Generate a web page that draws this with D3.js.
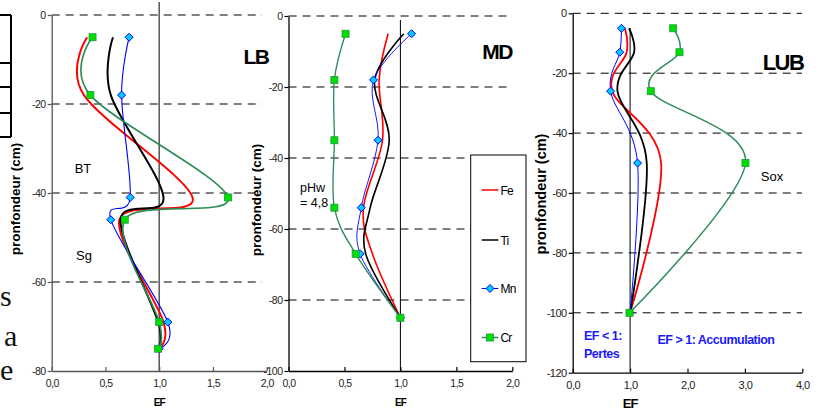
<!DOCTYPE html>
<html><head><meta charset="utf-8">
<script src="https://cdn.jsdelivr.net/npm/d3@7"></script>
<style>
body{margin:0;background:#fff;}
svg{display:block;font-family:"Liberation Sans",Arial,sans-serif;}
</style></head>
<body>
<svg id="c" width="819" height="410"></svg>
<script>
// ---- data ----
const elements = ["Fe", "Ti", "Mn", "Cr"];
const xTicks12 = [0, 0.5, 1, 1.5, 2];
const xTicks3 = [0, 1, 2, 3, 4];
// LB
const lbDepth = [-5, -18, -41, -46, -69, -75];
const lbFe = [0.33, 0.30, 1.31, 0.63, 1.04, 0.99];
const lbTi = [0.57, 0.55, 1.04, 0.64, 0.99, 0.99];
const lbMn = [0.72, 0.65, 0.73, 0.55, 1.08, 1.0];
const lbCr = [0.38, 0.36, 1.64, 0.68, 1.0, 0.99];
// MD
const mdDepth = [-5, -18, -35, -54, -67, -85];
const mdFe = [0.89, 0.81, 0.84, 0.67, 0.75, 1.0];
const mdTi = [1.03, 0.77, 0.90, 0.73, 0.69, 1.0];
const mdMn = [1.10, 0.76, 0.80, 0.65, 0.64, 1.0];
const mdCr = [0.51, 0.41, 0.41, 0.41, 0.60, 1.0];
// LUB
const lubDepth = [-5, -13, -26, -50, -100];
const lubFe = [0.91, 0.94, 0.69, 1.54, 1.0];
const lubTi = [0.98, 1.07, 0.78, 1.29, 1.0];
const lubMn = [0.85, 0.82, 0.66, 1.13, 1.0];
const lubCr = [1.75, 1.86, 1.36, 3.01, 0.99];

const svg = d3.select("#c");
const fmtX = d => d3.format(".1f")(d).replace(".", ",");

const styles = {
  Fe: {color: "#ff0000", w: 1.8, marker: null},
  Ti: {color: "#000000", w: 1.8, marker: null},
  Mn: {color: "#0000ff", w: 1.0, marker: "diamond", fill: "#00ccff"},
  Cr: {color: "#2e8b57", w: 1.5, marker: "square", fill: "#00dd00"}
};

// ---- left page artefacts ----
const art = svg.append("g").attr("stroke", "#000").attr("stroke-width", 2);
art.append("line").attr("x1", 11).attr("x2", 11).attr("y1", 15).attr("y2", 137);
[15, 63, 87, 113, 137].forEach(y => art.append("line").attr("x1", 0).attr("x2", 11).attr("y1", y).attr("y2", y));
[["s", 0, 306], ["a", 4, 346], ["e", 0, 380]].forEach(t =>
  svg.append("text").text(t[0]).attr("x", t[1]).attr("y", t[2])
    .attr("font-family", "Liberation Serif, serif").attr("font-size", 30).attr("fill", "#111"));

function panel(cfg) {
  const g = svg.append("g");
  const x = d3.scaleLinear().domain(cfg.xDom).range(cfg.xRange);
  const y = d3.scaleLinear().domain(cfg.yDom).range(cfg.yRange);
  const [x0, x1] = cfg.xRange, [yb, yt] = cfg.yRange;
  // dashed grid
  g.selectAll(".grid").data(cfg.grid).join("line")
    .attr("x1", x0).attr("x2", cfg.gridEnd).attr("y1", d => y(d)).attr("y2", d => y(d))
    .attr("stroke", cfg.gridColor).attr("stroke-width", cfg.gridW).attr("stroke-dasharray", "8,6");
  // EF=1 line
  g.append("line").attr("x1", x(1)).attr("x2", x(1)).attr("y1", cfg.oneTop).attr("y2", yb)
    .attr("stroke", cfg.axisColor).attr("stroke-width", cfg.oneW);
  // axes
  const ax = g.append("g").attr("transform", `translate(0,${yb})`)
    .call(d3.axisBottom(x).tickValues(cfg.xTicks).tickFormat(fmtX).tickSizeInner(-4).tickSizeOuter(0));
  const ay = g.append("g").attr("transform", `translate(${x0},0)`)
    .call(d3.axisLeft(y).tickValues(cfg.yTicks).tickFormat(d => d3.format("d")(d).replace("−", "-")).tickSizeInner(4).tickSizeOuter(0));
  [ax, ay].forEach(a => {
    a.select(".domain").attr("stroke", cfg.axisColor).attr("stroke-width", 1.3);
    a.selectAll(".tick line").attr("stroke", cfg.axisColor).attr("stroke-width", 1.2);
    a.selectAll("text").attr("font-family", "Liberation Sans, Arial, sans-serif")
      .attr("font-size", cfg.tickFs).attr("fill", "#222").attr("letter-spacing", "-0.5");
  });
  ax.selectAll(".tick text").attr("y", 9);
  ay.selectAll(".tick text").attr("x", -6);
  // axis titles
  g.append("text").text("EF").attr("x", x(1)).attr("y", cfg.efY).attr("text-anchor", "middle")
    .attr("font-weight", "bold").attr("font-size", cfg.efFs).attr("letter-spacing", "-1");
  g.append("text").text("pronfondeur (cm)")
    .attr("transform", `translate(${cfg.ylabX},${cfg.ylabY}) rotate(-90)`)
    .attr("text-anchor", "middle").attr("font-weight", "bold").attr("font-size", cfg.ylabFs);
  // series
  const line = d3.line().x(d => x(d[0])).y(d => y(d[1])).curve(d3.curveCardinal.tension(0));
  cfg.series.forEach((vals, i) => {
    const name = elements[i];
    const st = styles[name];
    const pts = vals.map((v, j) => [v, cfg.depth[j]]);
    g.append("path").datum(pts).attr("d", line).attr("fill", "none")
      .attr("stroke", st.color).attr("stroke-width", st.w * (cfg.wMul || 1));
    if (st.marker) drawMarkers(g, pts.map(p => [x(p[0]), y(p[1])]), st);
  });
  return {x, y, g};
}

function drawMarkers(g, pts, st) {
  pts.forEach(p => {
    if (st.marker === "diamond") {
      g.append("path").attr("d", `M${p[0]},${p[1]-4}L${p[0]+4},${p[1]}L${p[0]},${p[1]+4}L${p[0]-4},${p[1]}Z`)
        .attr("fill", st.fill).attr("stroke", st.color).attr("stroke-width", 1);
    } else {
      g.append("rect").attr("x", p[0] - 3.5).attr("y", p[1] - 3.5).attr("width", 7).attr("height", 7)
        .attr("fill", st.fill).attr("stroke", "#1a9a3a").attr("stroke-width", 0.8);
    }
  });
}

// Panel LB
const p1 = panel({
  xDom: [0, 2], xRange: [51.7, 266.7], yDom: [-80, 0], yRange: [371, 15],
  xTicks: xTicks12, yTicks: [-80, -60, -40, -20, 0], grid: [0, -20, -40, -60], gridEnd: 262,
  gridColor: "#555", gridW: 1.5, axisColor: "#555", oneTop: 2, oneW: 1.5,
  tickFs: 10.5, efY: 406, efFs: 10, ylabX: 20, ylabY: 199, ylabFs: 13.5,
  depth: lbDepth, series: [lbFe, lbTi, lbMn, lbCr], wMul: 1.1
});
p1.g.append("text").text("LB").attr("x", 256).attr("y", 64).attr("text-anchor", "middle")
  .attr("font-weight", "bold").attr("font-size", 21).attr("letter-spacing", "-1.5");
p1.g.append("text").text("BT").attr("x", 83).attr("y", 173).attr("text-anchor", "middle").attr("font-size", 13);
p1.g.append("text").text("Sg").attr("x", 84).attr("y", 260).attr("text-anchor", "middle").attr("font-size", 13);

// Panel MD
const p2 = panel({
  xDom: [0, 2], xRange: [288.5, 512.3], yDom: [-100, 0], yRange: [371, 16],
  xTicks: xTicks12, yTicks: [-100, -80, -60, -40, -20, 0], grid: [0, -20, -40, -60, -80], gridEnd: 512,
  gridColor: "#000", gridW: 1, axisColor: "#000", oneTop: 20, oneW: 1,
  tickFs: 10.5, efY: 406, efFs: 10, ylabX: 261, ylabY: 200, ylabFs: 13.5,
  depth: mdDepth, series: [mdFe, mdTi, mdMn, mdCr], wMul: 0.9
});
p2.g.append("text").text("MD").attr("x", 497).attr("y", 59).attr("text-anchor", "middle")
  .attr("font-weight", "bold").attr("font-size", 21).attr("letter-spacing", "-1.5");
p2.g.append("text").text("pHw").attr("x", 300).attr("y", 192).attr("font-size", 12.5);
p2.g.append("text").text("= 4,8").attr("x", 300).attr("y", 207).attr("font-size", 12.5);
// legend
const lg = p2.g.append("g");
lg.append("rect").attr("x", 470.7).attr("y", 155).attr("width", 55.3).attr("height", 206.7)
  .attr("fill", "#fff").attr("stroke", "#000").attr("stroke-width", 1);
const legY = [190, 240, 288.5, 337.5];
elements.forEach((name, i) => {
  const st = styles[name];
  lg.append("line").attr("x1", 481.7).attr("x2", 498.3).attr("y1", legY[i]).attr("y2", legY[i])
    .attr("stroke", st.color).attr("stroke-width", name === "Mn" ? 1 : 1.5);
  if (st.marker) drawMarkers(lg, [[490, legY[i]]], st);
  lg.append("text").text(name).attr("x", 500.5).attr("y", legY[i] + 4.5).attr("font-size", 12)
    .attr("letter-spacing", "-0.8");
});

// Panel LUB
const p3 = panel({
  xDom: [0, 4], xRange: [572.7, 802.3], yDom: [-120, 0], yRange: [372.7, 13.3],
  xTicks: xTicks3, yTicks: [-120, -100, -80, -60, -40, -20, 0], grid: [0, -20, -40, -60, -80, -100], gridEnd: 802,
  gridColor: "#000", gridW: 1, axisColor: "#000", oneTop: 28, oneW: 1,
  tickFs: 11, efY: 408, efFs: 13, ylabX: 546, ylabY: 194, ylabFs: 14.5,
  depth: lubDepth, series: [lubFe, lubTi, lubMn, lubCr], wMul: 1
});
p3.g.append("text").text("LUB").attr("x", 783).attr("y", 70).attr("text-anchor", "middle")
  .attr("font-weight", "bold").attr("font-size", 22).attr("letter-spacing", "-1.5");
p3.g.append("text").text("Sox").attr("x", 772).attr("y", 181).attr("text-anchor", "middle").attr("font-size", 13);
const blue = "#1a1aff";
p3.g.append("text").text("EF < 1:").attr("x", 584).attr("y", 340).attr("font-size", 12.5)
  .attr("font-weight", "bold").attr("fill", blue).attr("letter-spacing", "-0.5");
p3.g.append("text").text("Pertes").attr("x", 584).attr("y", 358).attr("font-size", 12.5)
  .attr("font-weight", "bold").attr("fill", blue).attr("letter-spacing", "-0.5");
p3.g.append("text").text("EF > 1: Accumulation").attr("x", 716).attr("y", 344).attr("text-anchor", "middle")
  .attr("font-size", 12.5).attr("font-weight", "bold").attr("fill", blue).attr("letter-spacing", "-0.5");
</script>
</body></html>
